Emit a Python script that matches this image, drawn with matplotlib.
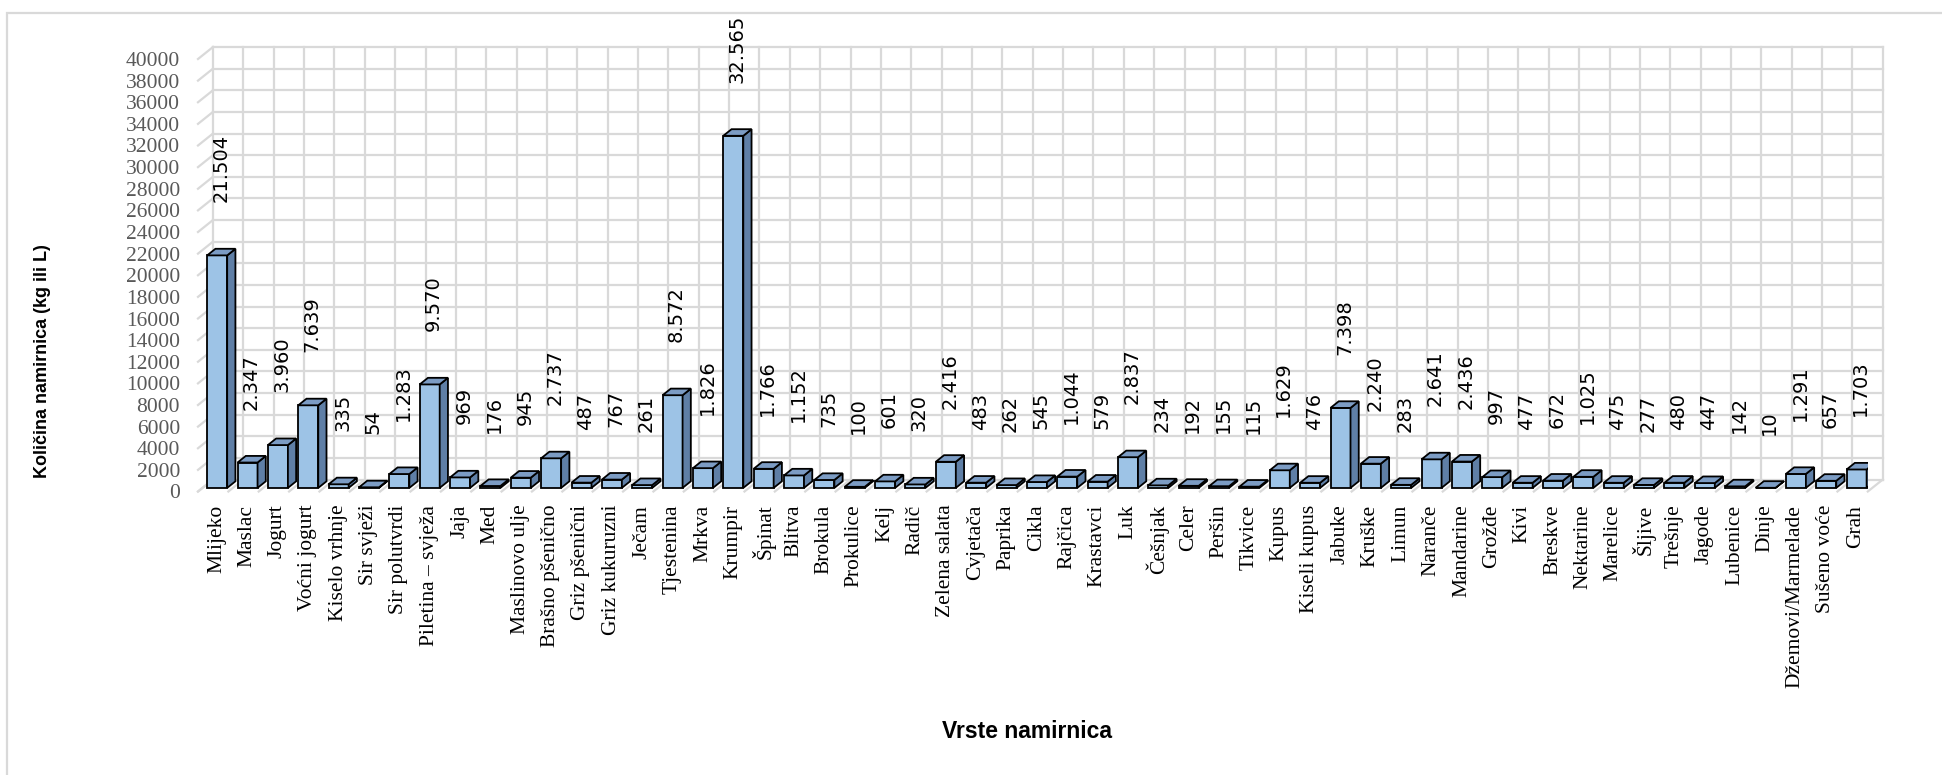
import matplotlib.pyplot as plt
from matplotlib.patches import Polygon, Rectangle
import numpy as np

categories = ['Mlijeko', 'Maslac', 'Jogurt', 'Voćni jogurt', 'Kiselo vrhnje', 'Sir svježi',
              'Sir polutvrdi', 'Piletina – svježa', 'Jaja', 'Med', 'Maslinovo ulje',
              'Brašno pšenično', 'Griz pšenični', 'Griz kukuruzni', 'Ječam', 'Tjestenina',
              'Mrkva', 'Krumpir', 'Špinat', 'Blitva', 'Brokula', 'Prokulice', 'Kelj', 'Radič',
              'Zelena salata', 'Cvjetača', 'Paprika', 'Cikla', 'Rajčica', 'Krastavci', 'Luk',
              'Češnjak', 'Celer', 'Peršin', 'Tikvice', 'Kupus', 'Kiseli kupus', 'Jabuke',
              'Kruške', 'Limun', 'Naranče', 'Mandarine', 'Grožđe', 'Kivi', 'Breskve',
              'Nektarine', 'Marelice', 'Šljive', 'Trešnje', 'Jagode', 'Lubenice', 'Dinje',
              'Džemovi/Marmelade', 'Sušeno voće', 'Grah']
values = [21504, 2347, 3960, 7639, 335, 54, 1283, 9570, 969, 176, 945, 2737, 487, 767, 261,
          8572, 1826, 32565, 1766, 1152, 735, 100, 601, 320, 2416, 483, 262, 545, 1044, 579,
          2837, 234, 192, 155, 115, 1629, 476, 7398, 2240, 283, 2641, 2436, 997, 477, 672,
          1025, 475, 277, 480, 447, 142, 10, 1291, 657, 1703]
y_ticks = list(range(0, 40001, 2000))

W, H = 1942, 775
fig = plt.figure(figsize=(W / 100, H / 100), dpi=100)

# front plane of the fake 3d box (pixels)
n = len(categories)
left_px, right_px = 198, 198 + n * 30.36
bottom_px, top_px = 491.5, 59
ymax = 40000
ax = fig.add_axes([left_px / W, 1 - bottom_px / H,
                   (right_px - left_px) / W, (bottom_px - top_px) / H])
ax.set_xlim(-0.5, n - 0.5)
ax.set_ylim(0, ymax)
for s in ax.spines.values():
    s.set_visible(False)

px_x = (right_px - left_px) / n
px_y = (bottom_px - top_px) / ymax


def dx(p):
    return p / px_x


def dy(p):
    return p / px_y


grid_c = '#D9D9D9'
wx, wy = dx(15), dy(12)

### back wall + side wall + floor
for yv in y_ticks:
    ax.plot([-0.5 + wx, n - 0.5 + wx], [yv + wy, yv + wy], color=grid_c, lw=1.6,
            clip_on=False, zorder=0)
    ax.plot([-0.5, -0.5 + wx], [yv, yv + wy], color=grid_c, lw=1.6, clip_on=False, zorder=0)
for k in range(n + 1):
    ax.plot([k - 0.5 + wx] * 2, [wy, ymax + wy], color=grid_c, lw=1.6, clip_on=False, zorder=0)
    ax.plot([k - 0.5, k - 0.5 + wx], [0, wy], color=grid_c, lw=1.6, clip_on=False, zorder=0)

### bars
x = np.arange(n)
bw = dx(20)
fx, fy = dx(4), dy(3.6)      # front face pushed into the box
sx, sy = dx(8.25), dy(6.6)   # bar depth
ax.bar(x + fx, values, width=bw, bottom=fy, color='#9DC3E6', edgecolor='black',
       lw=1.3, zorder=3)
for xi, v in zip(x, values):
    xl, xr = xi + fx - bw / 2, xi + fx + bw / 2
    top = fy + v
    side = Polygon([(xr, fy), (xr + sx, fy + sy), (xr + sx, top + sy), (xr, top)],
                   closed=True, facecolor='#5F7FA6', edgecolor='black', lw=1.3, zorder=3)
    lid = Polygon([(xl, top), (xl + sx, top + sy), (xr + sx, top + sy), (xr, top)],
                  closed=True, facecolor='#7C9CC4', edgecolor='black', lw=1.3, zorder=3)
    ax.add_patch(side)
    ax.add_patch(lid)
    lab = f'{v:,}'.replace(',', '.')
    ax.text(xi + dx(8), v + fy + dy(53), lab, rotation=90, ha='center', va='bottom',
            fontsize=14, family='DejaVu Sans', color='black', clip_on=False, zorder=4)

### axes text
ax.set_xticks(x + dx(3.5))
ax.set_xticklabels(categories, rotation=90, family='Liberation Serif', fontsize=15.5,
                   va='top', ha='center')
ax.set_yticks(y_ticks)
ax.set_yticklabels([str(t) for t in y_ticks], family='Liberation Serif', fontsize=15.5,
                   color='#595959')
ax.tick_params(axis='x', length=0, pad=9.5)
ax.tick_params(axis='y', length=0, pad=13)

fig.text(43 / W, 1 - 361 / H, 'Količina namirnica (kg ili L)', rotation=90, ha='center',
         va='center', fontsize=13, fontweight='bold', family='Liberation Sans')
fig.text(1027 / W, 1 - 731 / H, 'Vrste namirnica', ha='center', va='center',
         fontsize=16.5, fontweight='bold', family='Liberation Sans')

# outer frame
fig.patches.append(Rectangle((7 / W, -0.2), 1.5, 1.2 - 13 / H, transform=fig.transFigure,
                             fill=False, edgecolor='#D9D9D9', lw=1.6))

fig.savefig('out.png', dpi=100)
